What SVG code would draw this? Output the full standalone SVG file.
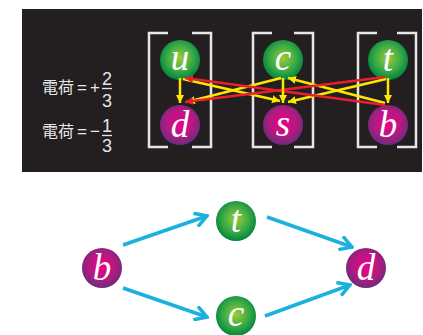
<svg xmlns="http://www.w3.org/2000/svg" width="423" height="335" viewBox="0 0 423 335">
<defs>
<radialGradient id="gG" cx="0.5" cy="0.45" r="0.55">
<stop offset="0" stop-color="#9acb3c"/><stop offset="0.6" stop-color="#3aaa45"/><stop offset="1" stop-color="#00853e"/>
</radialGradient>
<radialGradient id="gM" cx="0.5" cy="0.45" r="0.55">
<stop offset="0" stop-color="#ec008c"/><stop offset="0.6" stop-color="#b5197f"/><stop offset="1" stop-color="#6b2c7e"/>
</radialGradient>
<marker id="mY" viewBox="0 0 10 10" refX="10" refY="5" markerWidth="8" markerHeight="8" markerUnits="userSpaceOnUse" orient="auto"><path d="M0,0 L10,5 L0,10 z" fill="#ffe600"/></marker>
<marker id="mR" viewBox="0 0 10 10" refX="10" refY="5" markerWidth="8" markerHeight="8" markerUnits="userSpaceOnUse" orient="auto"><path d="M0,0 L10,5 L0,10 z" fill="#e8202a"/></marker>
<marker id="mC" viewBox="0 0 16 16" refX="14" refY="8" markerWidth="16" markerHeight="16" markerUnits="userSpaceOnUse" orient="auto"><path d="M2,1 L14,8 L2,15" fill="none" stroke="#1bb0de" stroke-width="3.5"/></marker>
</defs>
<style>
.q{font-family:"Liberation Serif",serif;font-style:italic;fill:#fff;text-anchor:middle;font-size:37px}
.lab{font-family:"Noto Sans CJK JP","Liberation Sans",sans-serif;fill:#e6e6e6;font-size:16px}
.op{font-family:"Liberation Sans",sans-serif;fill:#e6e6e6;font-size:17px;text-anchor:middle}
.num{font-family:"Liberation Sans",sans-serif;fill:#e6e6e6;font-size:18px;text-anchor:middle}
.br{fill:none;stroke:#e6e6e6;stroke-width:2.5}
.y{stroke:#ffe600;stroke-width:2.5;fill:none;marker-end:url(#mY)}
.r{stroke:#e8202a;stroke-width:2.5;fill:none;marker-end:url(#mR)}
.cy{stroke:#1bb0de;stroke-width:3.5;fill:none;marker-end:url(#mC)}
</style>
<rect x="22" y="9" width="400" height="163" fill="#231f20"/>
<g id="labels">
<text x="42" y="93" class="lab">電荷</text>
<text x="82" y="93" class="op">=</text>
<text x="95" y="93" class="op">+</text>
<text x="107" y="85" class="num">2</text>
<line x1="102" y1="88.5" x2="112" y2="88.5" stroke="#e6e6e6" stroke-width="1.3"/>
<text x="107" y="107" class="num">3</text>
<text x="42" y="137" class="lab">電荷</text>
<text x="82" y="137" class="op">=</text>
<text x="95" y="137" class="op">−</text>
<text x="107" y="132" class="num">1</text>
<line x1="102" y1="135.5" x2="112" y2="135.5" stroke="#e6e6e6" stroke-width="1.3"/>
<text x="107" y="152" class="num">3</text>
</g>
<g id="brackets">
<path class="br" d="M168,33 H149 V147 H168"/>
<path class="br" d="M192,33 H211 V147 H192"/>
<path class="br" d="M272,33 H253 V147 H272"/>
<path class="br" d="M294,33 H313 V147 H294"/>
<path class="br" d="M377,33 H358 V147 H377"/>
<path class="br" d="M397,33 H416 V147 H397"/>
</g>
<g id="node-u"><circle cx="180" cy="60" r="20" fill="url(#gG)"/><text x="180" y="70" class="q">u</text></g>
<g id="node-c"><circle cx="283" cy="60" r="20" fill="url(#gG)"/><text x="283" y="70" class="q">c</text></g>
<g id="node-t"><circle cx="388" cy="60" r="20" fill="url(#gG)"/><text x="388" y="71" class="q">t</text></g>
<g id="node-d"><circle cx="180" cy="125" r="20" fill="url(#gM)"/><text x="180" y="137" class="q">d</text></g>
<g id="node-s"><circle cx="283" cy="125" r="20" fill="url(#gM)"/><text x="283" y="136" class="q">s</text></g>
<g id="node-b"><circle cx="388" cy="125" r="20" fill="url(#gM)"/><text x="388" y="137" class="q">b</text></g>
<g id="connectors-top">
<line class="y" x1="281" y1="78" x2="187" y2="102"/>
<line class="y" x1="183" y1="79" x2="280" y2="101"/>
<line class="y" x1="386" y1="79" x2="288" y2="102"/>
<line class="y" x1="385" y1="103" x2="288" y2="78"/>
<line class="r" x1="385" y1="105" x2="185" y2="78"/>
<line class="r" x1="385" y1="77" x2="185" y2="102"/>
<line class="y" x1="180" y1="78" x2="180" y2="103"/>
<line class="y" x1="283" y1="78" x2="283" y2="103"/>
<line class="y" x1="388" y1="78" x2="388" y2="103"/>
</g>
<g id="node-b2"><circle cx="102" cy="268" r="20" fill="url(#gM)"/><text x="102" y="280" class="q">b</text></g>
<g id="node-t2"><circle cx="236" cy="221" r="20" fill="url(#gG)"/><text x="236" y="232" class="q">t</text></g>
<g id="node-c2"><circle cx="236" cy="316" r="20" fill="url(#gG)"/><text x="236" y="326" class="q">c</text></g>
<g id="node-d2"><circle cx="366" cy="268" r="20" fill="url(#gM)"/><text x="366" y="280" class="q">d</text></g>
<g id="connectors-bottom">
<line class="cy" x1="123" y1="245" x2="207" y2="216"/>
<line class="cy" x1="267" y1="217" x2="352" y2="247"/>
<line class="cy" x1="123" y1="288" x2="207" y2="317"/>
<line class="cy" x1="265" y1="316" x2="350" y2="285"/>
</g>
</svg>
